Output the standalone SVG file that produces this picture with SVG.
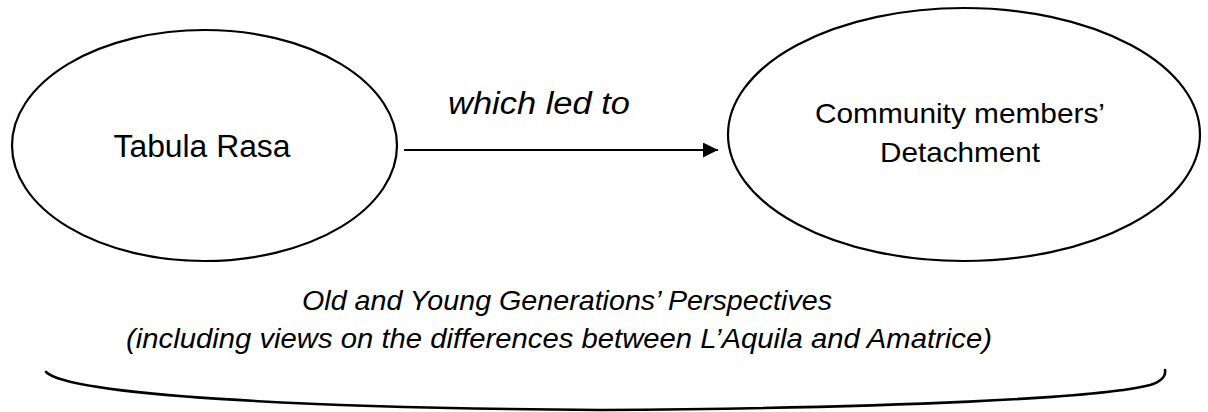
<svg xmlns="http://www.w3.org/2000/svg" width="1208" height="412" viewBox="0 0 1208 412">
<style>
.node{fill:#fff;stroke:#000;stroke-width:2.2}
.t{font-family:"Liberation Sans",Arial,sans-serif;fill:#000;text-anchor:middle}
.it{font-style:italic}
.conn{stroke:#000;stroke-width:2;fill:none}
</style>
<defs>
<marker id="ah" markerWidth="16" markerHeight="16" refX="15" refY="7.5" orient="auto" markerUnits="userSpaceOnUse">
<path d="M0,0 L15,7.5 L0,15 Z" fill="#000"/>
</marker>
</defs>
<rect width="1208" height="412" fill="#fff"/>
<g id="tabula-rasa">
<ellipse class="node" cx="204.5" cy="145.5" rx="192.5" ry="115.5"/>
<text class="t" x="202" y="157" font-size="31" textLength="177" lengthAdjust="spacingAndGlyphs">Tabula Rasa</text>
</g>
<g id="detachment">
<ellipse class="node" cx="964" cy="134.5" rx="236" ry="126.5"/>
<text class="t" x="960" y="123" font-size="28" textLength="290" lengthAdjust="spacingAndGlyphs">Community members’</text>
<text class="t" x="960" y="162" font-size="28" textLength="160" lengthAdjust="spacingAndGlyphs">Detachment</text>
</g>
<g id="connectors">
<line class="conn" x1="404" y1="150" x2="718" y2="150" marker-end="url(#ah)"/>
<text class="t it" x="539" y="114" font-size="31" textLength="182" lengthAdjust="spacingAndGlyphs">which led to</text>
</g>
<g id="perspectives">
<text class="t it" x="567" y="310" font-size="28" textLength="530" lengthAdjust="spacingAndGlyphs">Old and Young Generations’ Perspectives</text>
<text class="t it" x="559" y="348" font-size="28" textLength="866" lengthAdjust="spacingAndGlyphs">(including views on the differences between L’Aquila and Amatrice)</text>
<path d="M46,372 C70,395 300,408 600,410 C900,408 1100,398 1150,385 C1163,381 1166,376 1165,370" fill="none" stroke="#000" stroke-width="2.6" stroke-linecap="round"/>
</g>
</svg>
